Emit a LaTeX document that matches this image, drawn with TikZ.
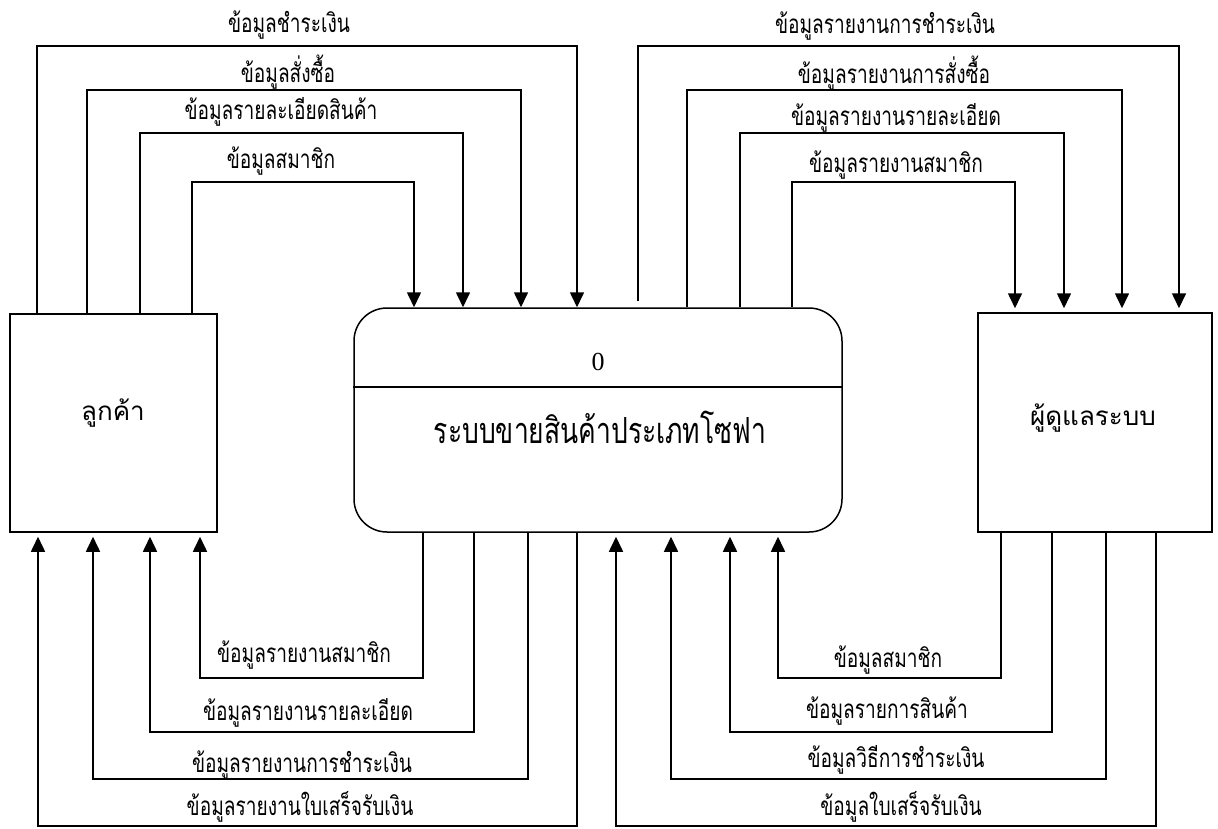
\documentclass[tikz,border=0pt]{standalone}
\usepackage{fontspec}
\setmainfont{Liberation Serif}
\newfontfamily\thaifont[Script=Thai]{Loma}
\newfontfamily\thainarrow[Script=Thai,FakeStretch=0.735]{Loma}
\usetikzlibrary{arrows.meta}
\begin{document}
\begin{tikzpicture}[x=1pt,y=-1pt,
  box/.style={draw, line width=1.5pt, inner sep=0pt},
  conn/.style={line width=1.5pt},
  flow/.style={line width=1.6pt, -{Triangle[length=15pt,width=14pt]}},
  lbl/.style={font=\thainarrow\fontsize{26}{28}\selectfont, anchor=base, inner sep=0pt},
  entlbl/.style={font=\thaifont\fontsize{26}{28}\selectfont, inner sep=0pt},
  ttl/.style={font=\thainarrow\fontsize{36}{38}\selectfont, inner sep=0pt}]
\path[use as bounding box, fill=white] (0,0) rectangle (1218,828);

% entities and process
\node[box, minimum width=207pt, minimum height=218pt] (cust) at (113.5,423) {};
\node[entlbl] (custtxt) at (113,413) {ลูกค้า};
\node[box, rounded corners=33pt, minimum width=488pt, minimum height=224pt] (proc) at (598,420) {};
\node[box, minimum width=234pt, minimum height=219pt] (admin) at (1095,422.5) {};
\node[entlbl] (admintxt) at (1093,418) {ผู้ดูแลระบบ};
\coordinate (divy) at (0,387);
\draw[conn] (proc.west |- divy) -- (proc.east |- divy);
\node[font=\fontsize{26}{28}\selectfont, inner sep=0pt] (pnum) at (598,362) {0};
\node[ttl] (ptitle) at (600,427) {ระบบขายสินค้าประเภทโซฟา};

% top-left: customer -> process
\coordinate (tl1a) at (37,46);  \coordinate (tl1b) at (577,46);
\coordinate (tl2a) at (87,90);  \coordinate (tl2b) at (521,90);
\coordinate (tl3a) at (140,133); \coordinate (tl3b) at (463,133);
\coordinate (tl4a) at (192,182); \coordinate (tl4b) at (414,182);
\draw[flow] (cust.north -| tl1a) -- (tl1a) -- (tl1b) -- (proc.north -| tl1b);
\draw[flow] (cust.north -| tl2a) -- (tl2a) -- (tl2b) -- (proc.north -| tl2b);
\draw[flow] (cust.north -| tl3a) -- (tl3a) -- (tl3b) -- (proc.north -| tl3b);
\draw[flow] (cust.north -| tl4a) -- (tl4a) -- (tl4b) -- (proc.north -| tl4b);
\node[lbl] (l1) at (289,32) {ข้อมูลชำระเงิน};
\node[lbl] (l2) at (288,82) {ข้อมูลสั่งซื้อ};
\node[lbl] (l3) at (281,119) {ข้อมูลรายละเอียดสินค้า};
\node[lbl] (l4) at (281,168) {ข้อมูลสมาชิก};

% top-right: process -> admin
\coordinate (tr1s) at (638,301);
\coordinate (tr1a) at (638,46);  \coordinate (tr1b) at (1179,46);
\coordinate (tr2a) at (687,90);  \coordinate (tr2b) at (1122,90);
\coordinate (tr3a) at (740,133); \coordinate (tr3b) at (1064,133);
\coordinate (tr4a) at (792,182); \coordinate (tr4b) at (1015,182);
\draw[flow, shorten >=4pt] (tr1s) -- (tr1a) -- (tr1b) -- (admin.north -| tr1b);
\draw[flow, shorten >=4pt] (proc.north -| tr2a) -- (tr2a) -- (tr2b) -- (admin.north -| tr2b);
\draw[flow, shorten >=4pt] (proc.north -| tr3a) -- (tr3a) -- (tr3b) -- (admin.north -| tr3b);
\draw[flow, shorten >=4pt] (proc.north -| tr4a) -- (tr4a) -- (tr4b) -- (admin.north -| tr4b);
\node[lbl] (r1) at (885,33) {ข้อมูลรายงานการชำระเงิน};
\node[lbl] (r2) at (894,83) {ข้อมูลรายงานการสั่งซื้อ};
\node[lbl] (r3) at (896,125) {ข้อมูลรายงานรายละเอียด};
\node[lbl] (r4) at (896,172) {ข้อมูลรายงานสมาชิก};

% bottom-left: process -> customer
\coordinate (bl1a) at (423,678); \coordinate (bl1b) at (200,678);
\coordinate (bl2a) at (474,732); \coordinate (bl2b) at (150,732);
\coordinate (bl3a) at (528,779); \coordinate (bl3b) at (93,779);
\coordinate (bl4a) at (577,826); \coordinate (bl4b) at (38,826);
\draw[flow, shorten >=4pt] (proc.south -| bl1a) -- (bl1a) -- (bl1b) -- (cust.south -| bl1b);
\draw[flow, shorten >=4pt] (proc.south -| bl2a) -- (bl2a) -- (bl2b) -- (cust.south -| bl2b);
\draw[flow, shorten >=4pt] (proc.south -| bl3a) -- (bl3a) -- (bl3b) -- (cust.south -| bl3b);
\draw[flow, shorten >=4pt] (proc.south -| bl4a) -- (bl4a) -- (bl4b) -- (cust.south -| bl4b);
\node[lbl] (b1) at (304,662) {ข้อมูลรายงานสมาชิก};
\node[lbl] (b2) at (308,720) {ข้อมูลรายงานรายละเอียด};
\node[lbl] (b3) at (302,772) {ข้อมูลรายงานการชำระเงิน};
\node[lbl] (b4) at (300,815) {ข้อมูลรายงานใบเสร็จรับเงิน};

% bottom-right: admin -> process
\coordinate (br1a) at (1001,678); \coordinate (br1b) at (778,678);
\coordinate (br2a) at (1052,732); \coordinate (br2b) at (730,732);
\coordinate (br3a) at (1106,779); \coordinate (br3b) at (671,779);
\coordinate (br4a) at (1156,826); \coordinate (br4b) at (616,826);
\draw[flow, shorten >=4pt] (admin.south -| br1a) -- (br1a) -- (br1b) -- (proc.south -| br1b);
\draw[flow, shorten >=4pt] (admin.south -| br2a) -- (br2a) -- (br2b) -- (proc.south -| br2b);
\draw[flow, shorten >=4pt] (admin.south -| br3a) -- (br3a) -- (br3b) -- (proc.south -| br3b);
\draw[flow, shorten >=4pt] (admin.south -| br4a) -- (br4a) -- (br4b) -- (proc.south -| br4b);
\node[lbl] (c1) at (888,667) {ข้อมูลสมาชิก};
\node[lbl] (c2) at (887,718) {ข้อมูลรายการสินค้า};
\node[lbl] (c3) at (896,767) {ข้อมูลวิธีการชำระเงิน};
\node[lbl] (c4) at (901,815) {ข้อมูลใบเสร็จรับเงิน};
\end{tikzpicture}
\end{document}
